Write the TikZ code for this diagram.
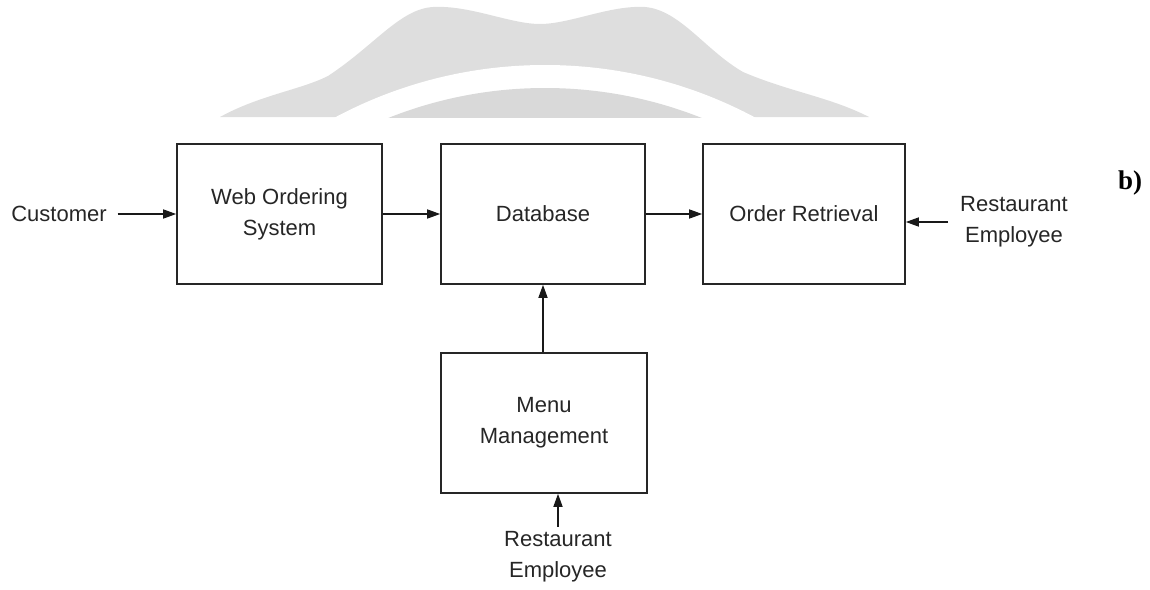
\documentclass[tikz,border=0pt]{standalone}
\usepackage{fontspec}
\setmainfont{Liberation Sans}
\newfontfamily\serifbold{Liberation Serif}
\usetikzlibrary{arrows.meta}
\definecolor{wmgray}{RGB}{222,222,222}
\definecolor{wmgrayb}{RGB}{217,217,217}
\begin{document}
\begin{tikzpicture}[x=1pt,y=-1pt,
  box/.style={draw=black!85, line width=1.6pt, minimum width=204pt, minimum height=140pt, align=center, inner sep=0pt},
  lbl/.style={align=center, inner sep=0pt},
  arr/.style={draw=black!90, line width=1.5pt, -{Triangle[length=13pt,width=9pt]}},
  every node/.style={font=\fontsize{22}{31}\selectfont, text=black!85}]
\useasboundingbox (0,0) rectangle (1150,589);
% watermark
\begin{scope}
  \clip (0,0) rectangle (1150,117);
  \fill[wmgray] (220,117) .. controls (260,95) and (300,90) .. (328,76)
    .. controls (375,45) and (400,9) .. (433,7)
    .. controls (470,5) and (510,24) .. (540,24)
    .. controls (570,24) and (610,5) .. (645,7)
    .. controls (680,10) and (705,50) .. (743,72)
    .. controls (790,92) and (830,97) .. (869,117) -- cycle;
  \fill[white] (545,511) circle[radius=446];
  \fill[wmgrayb] (545,511) circle[radius=423];
\end{scope}
% boxes
\node[box, minimum width=205pt] (web) at (279.5,214) {Web Ordering\\System};
\node[box] (db) at (543,214) {Database};
\node[box, minimum width=202pt] (ord) at (804,214) {Order Retrieval};
\node[box, minimum width=206pt] (mm) at (544,423) {Menu\\Management};
% labels
\node[lbl, outer xsep=11pt] (cust) at (59,214) {Customer};
\node[lbl, outer xsep=12pt] (emp1) at (1014,222) {Restaurant\\Employee};
\node[lbl, outer ysep=5pt] (emp2) at (558,557) {Restaurant\\Employee};
\node[inner sep=0pt, font=\serifbold\bfseries\fontsize{27}{30}\selectfont, text=black] (b) at (1130,183) {b)};
% connectors
\draw[arr] (cust.east) -- (web.west);
\draw[arr] (web.east) -- (db.west);
\draw[arr] (db.east) -- (ord.west);
\draw[arr] (emp1.west) -- (ord.east |- emp1.west);
\draw[arr] (mm.north -| db.south) -- (db.south);
\draw[arr] (emp2.north) -- (mm.south -| emp2.north);
\end{tikzpicture}
\end{document}
